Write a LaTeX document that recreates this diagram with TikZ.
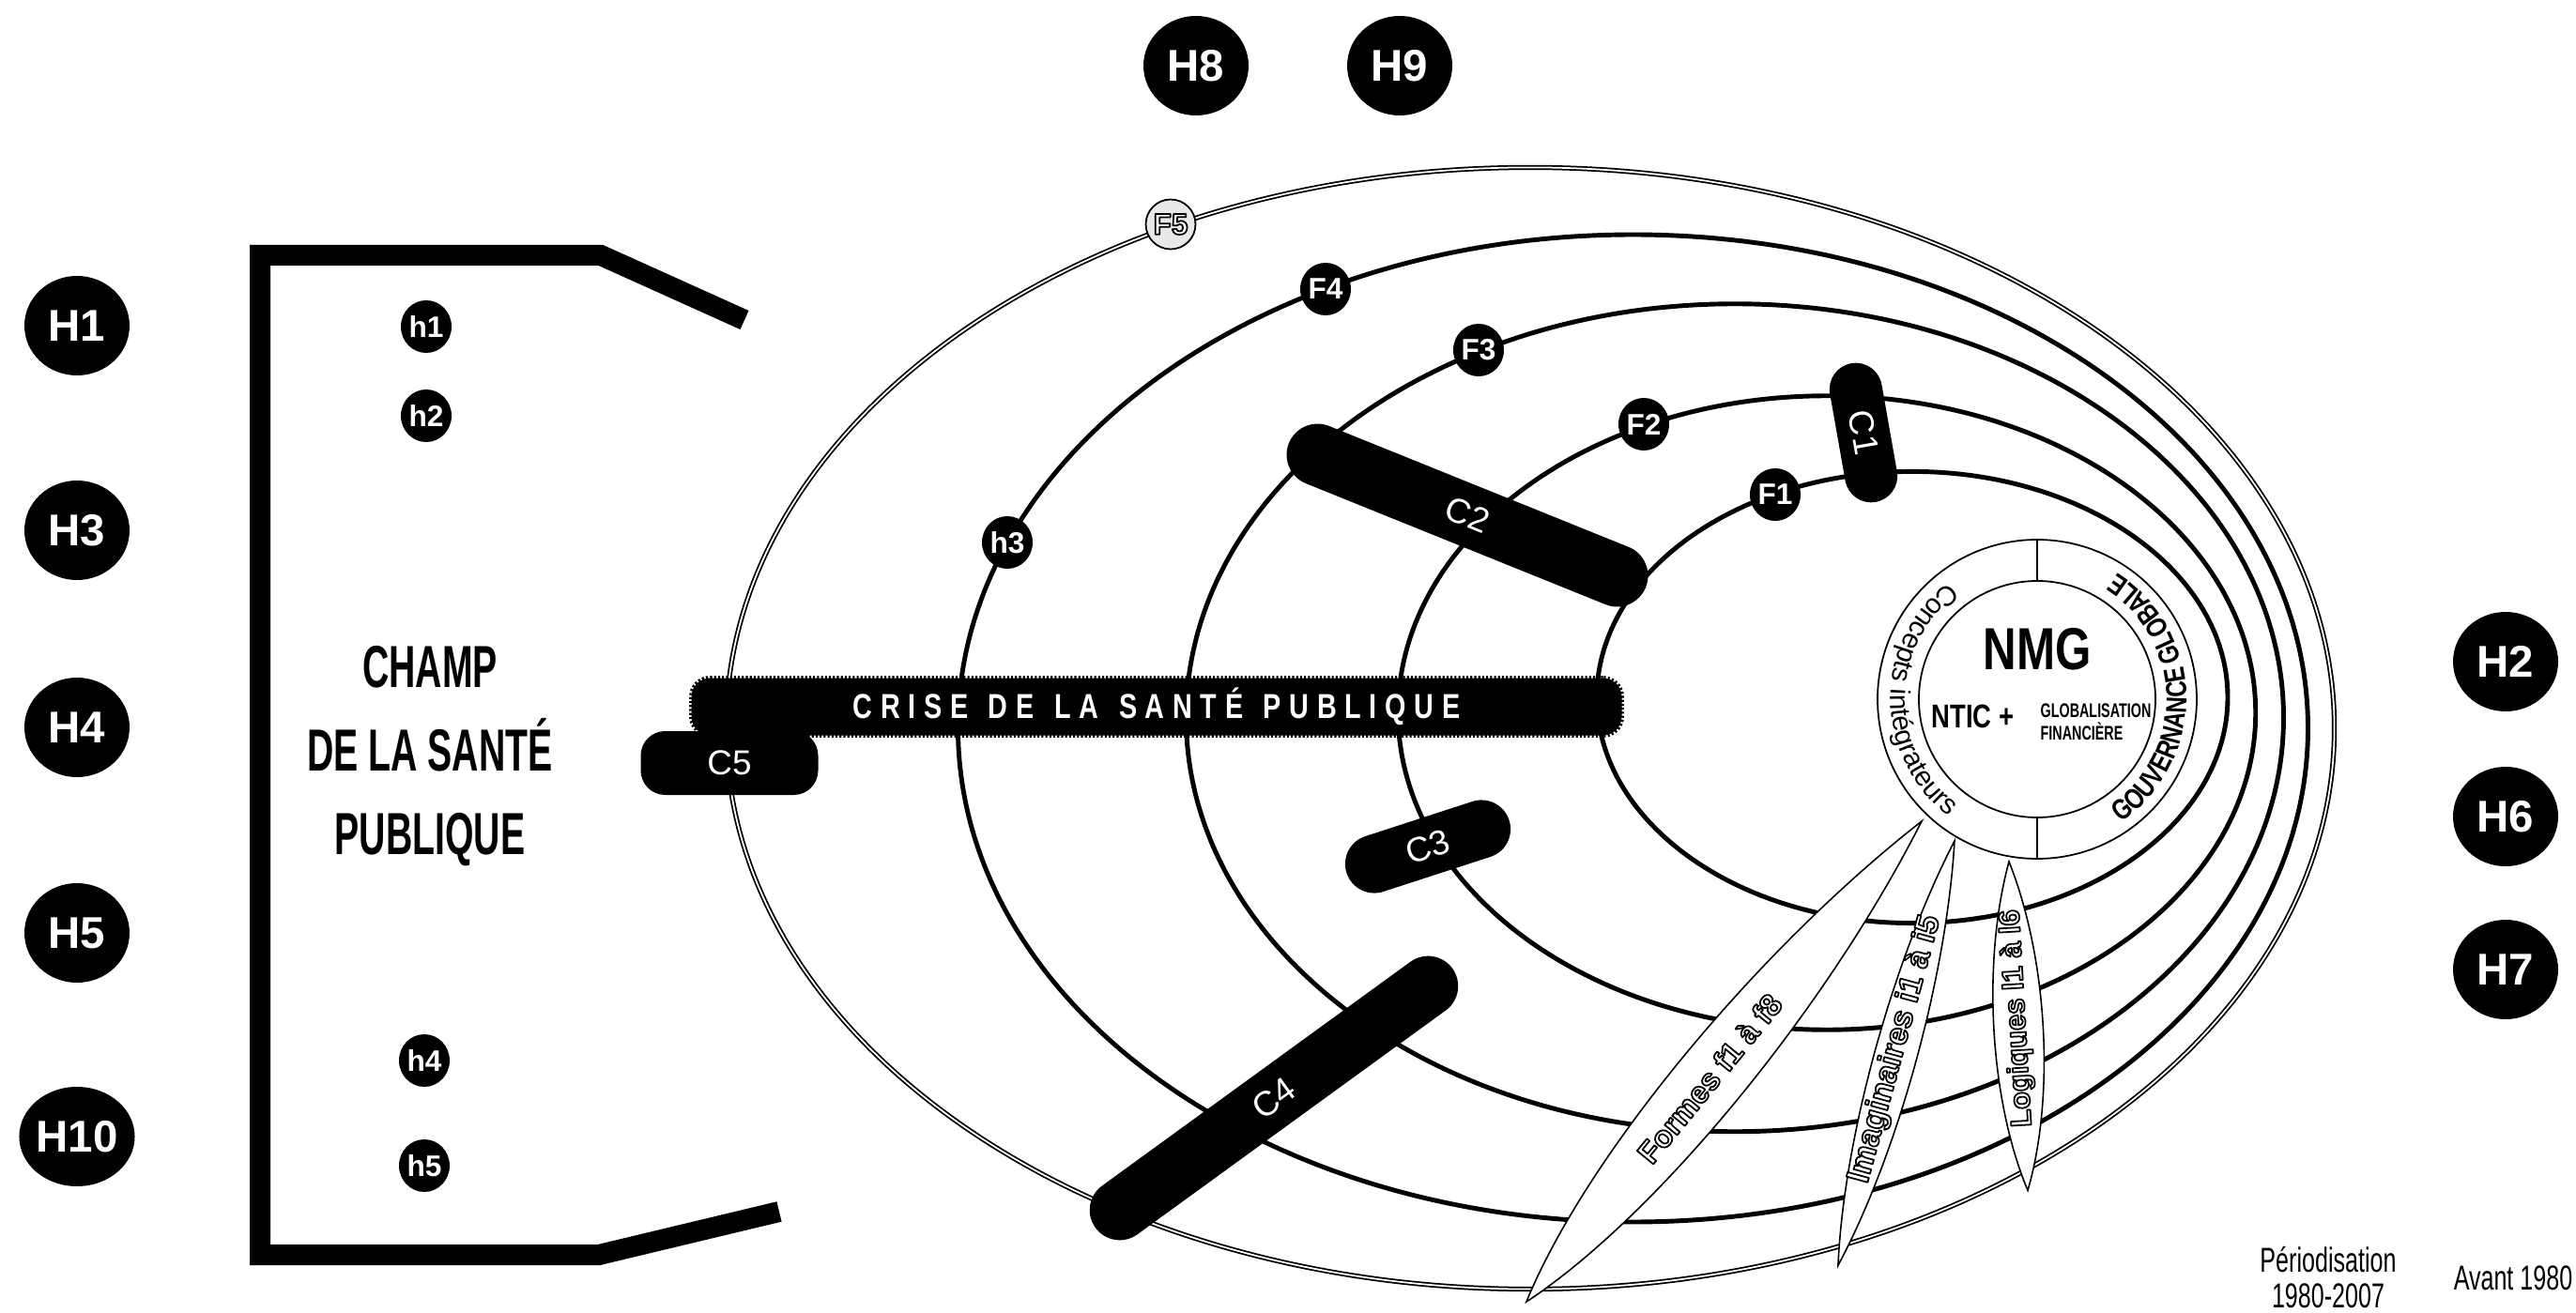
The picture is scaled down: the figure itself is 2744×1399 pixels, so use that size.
\documentclass[tikz,border=0pt]{standalone}
\usepackage{fontspec}
\setmainfont{Liberation Sans}
\newfontfamily\cnd[FakeStretch=0.68]{Liberation Sans}
\newfontfamily\cndc[FakeStretch=0.62]{Liberation Sans}
\newfontfamily\cndw[FakeStretch=0.78]{Liberation Sans}
\usetikzlibrary{shapes.geometric,decorations.text}
\newcommand{\outl}[1]{\special{pdf:literal direct 2 Tr 0.5 w 1 j 0 0 0 RG 1 1 1 rg}#1\special{pdf:literal direct 0 Tr 0.3985 w 0 j 0 0 0 rg 0 0 0 RG}}
\newcommand{\wgap}{\hskip 0pt plus 2.5fil\relax}
\newcommand{\lgap}{\hskip 0pt plus 1fil\relax}
\newcommand{\crisetext}{\hbox to 184pt{C\lgap R\lgap I\lgap S\lgap E\wgap D\lgap E\wgap L\lgap A\wgap S\lgap A\lgap N\lgap T\lgap É\wgap P\lgap U\lgap B\lgap L\lgap I\lgap Q\lgap U\lgap E}}
\begin{document}
\begin{tikzpicture}[x=0.1mm,y=0.1mm,
  bigH/.style={ellipse, fill=black, minimum width=11.2mm, minimum height=10.6mm, inner sep=0pt, text=white, font=\bfseries\fontsize{13.5}{14}\selectfont},
  smallh/.style={ellipse, fill=black, minimum width=5.4mm, minimum height=5.6mm, inner sep=0pt, text=white, font=\bfseries\fontsize{9}{9}\selectfont},
  capsule/.style={rectangle, fill=black, text=white, inner sep=0pt, font=\fontsize{10.5}{11}\selectfont},
  orbit/.style={line width=1.4pt},
  lens/.style={draw=black, fill=white, line width=0.45pt},
  thinline/.style={line width=0.5pt},
  hollow/.style={inner sep=0pt, font=\bfseries\fontsize{9.3}{10}\selectfont},
]
\fill[white] (0,0) rectangle (2744,-1399);
\useasboundingbox (0,0) rectangle (2744,-1399);

% orbits
\draw[double=white, double distance=0.5pt, line width=0.5pt] (1630,-776) ellipse [x radius=85.66mm, y radius=59.76mm];
\draw[orbit] (1739.5,-776) ellipse [x radius=71.9mm, y radius=52.6mm];
\draw[orbit] (1848,-764.75) ellipse [x radius=58.45mm, y radius=44.1mm];
\draw[orbit] (1946,-759.5) ellipse [x radius=45.675mm, y radius=33.775mm];
\draw[orbit] (2037,-743) ellipse [x radius=33.6mm, y radius=24.06mm];

% bracket
\draw[line width=2.2mm, line join=miter] (830,-1291) -- (638,-1337) -- (277,-1337) -- (277,-272) -- (640,-272) -- (793,-341);
\node[align=center, font=\cndc\bfseries\fontsize{18}{25.3}\selectfont] (champ) at (458,-806) {CHAMP\\DE LA SANTÉ\\PUBLIQUE};

% NMG circle
\node[circle, draw, fill=white, thinline, minimum size=34mm, inner sep=0pt] (nmgout) at (2170,-745) {};
\node[circle, draw, thinline, minimum size=25.2mm, inner sep=0pt] (nmgin) at (2170,-745) {};
\draw[thinline] (nmgout.north) -- (nmgin.north);
\draw[thinline] (nmgin.south) -- (nmgout.south);
\node[font=\cndw\bfseries\fontsize{18}{20}\selectfont] (nmg) at (2170,-692) {NMG};
\node[anchor=west, inner sep=0pt, font=\cndw\bfseries\fontsize{10}{12}\selectfont] (ntic) at (2057,-763) {NTIC +};
\node[anchor=west, inner sep=0pt, align=left, font=\cnd\bfseries\fontsize{6}{6.8}\selectfont] (glob) at (2173,-769) {GLOBALISATION\\FINANCIÈRE};
\path[decorate, decoration={text along path, text align=center, text={|\fontsize{8.4}{9}\selectfont|Concepts intégrateurs}}] (2170,-745) ++(126:15.6mm) arc[start angle=126, end angle=234, radius=15.6mm];
\path[decorate, decoration={text along path, text align=center, text={|\cndw\bfseries\fontsize{8.8}{9}\selectfont|GOUVERNANCE GLOBALE}}] (2170,-745) ++(-58:15.9mm) arc[start angle=-58, end angle=60, radius=15.9mm];

% lenses
\begin{scope}[shift={(2047,-875)}, rotate=230.57]
  \draw[lens] (0,0) .. controls (220,49) and (505,49) .. (663,0) .. controls (505,-49) and (220,-49) .. (0,0) -- cycle;
\end{scope}
\begin{scope}[shift={(2082,-896)}, rotate=254.66]
  \draw[lens] (0,0) .. controls (141,30) and (337,30) .. (469,0) .. controls (337,-30) and (141,-30) .. (0,0) -- cycle;
\end{scope}
\begin{scope}[shift={(2140,-918)}, rotate=273.27]
  \draw[lens] (0,0) .. controls (105,35) and (252,35) .. (351,0) .. controls (252,-35) and (105,-35) .. (0,0) -- cycle;
\end{scope}
\node[hollow, rotate=50.6] (formes) at (1821,-1149) {\outl{Formes f1 à f8}};
\node[hollow, rotate=74.7, font=\bfseries\fontsize{9.7}{10}\selectfont] (imag) at (2019,-1118) {\outl{Imaginaires i1 à i5}};
\node[hollow, rotate=93.3, font=\bfseries\fontsize{8.8}{10}\selectfont] (logi) at (2149,-1085) {\outl{Logiques l1 à l6}};

% capsules
\node[capsule, minimum width=15mm, minimum height=5.6mm, rounded corners=2.8mm, rotate=-80] (C1) at (1985,-461) {C1};
\node[capsule, minimum width=41mm, minimum height=6.6mm, rounded corners=3.3mm, rotate=-22] (C2) at (1563,-549) {C2};
\node[capsule, minimum width=18.2mm, minimum height=6.2mm, rounded corners=3.1mm, rotate=18] (C3) at (1521,-902) {C3};
\node[capsule, minimum width=47mm, minimum height=6.4mm, rounded corners=3.2mm, rotate=36] (C4) at (1357,-1170) {C4};
\node[capsule, minimum width=18.9mm, minimum height=6.8mm, rounded corners=2.6mm] (C5) at (777,-813) {C5};

% crisis band
\node[fill=black, minimum width=99.1mm, minimum height=6.1mm, rounded corners=2mm, inner sep=0pt,
      postaction={draw=black, line width=1.4pt, dash pattern=on 0.6pt off 0.6pt},
      text=white, font=\cndw\bfseries\fontsize{10.5}{11}\selectfont] (crise) at (1232,-753) {\crisetext};

% small circles on orbits
\node[smallh] (h3) at (1073,-578) {h3};
\node[smallh] (F1) at (1891,-527) {F1};
\node[smallh] (F2) at (1751,-452) {F2};
\node[smallh] (F3) at (1575,-373) {F3};
\node[smallh] (F4) at (1412,-308) {F4};
\node[circle, draw, thinline, fill=gray!18, minimum size=5.3mm, inner sep=0pt, font=\bfseries\fontsize{9}{9}\selectfont] (F5) at (1247,-239) {\outl{F5}};

% small h inside bracket
\node[smallh] (h1) at (454,-348) {h1};
\node[smallh] (h2) at (454,-443) {h2};
\node[smallh] (h4) at (452,-1130) {h4};
\node[smallh] (h5) at (452,-1242) {h5};

% big H
\node[bigH] (H1) at (82,-347) {H1};
\node[bigH] (H3) at (82,-565) {H3};
\node[bigH] (H4) at (82,-775) {H4};
\node[bigH] (H5) at (82,-994) {H5};
\node[bigH] (H10) at (82,-1211) {H10};
\node[bigH] (H8) at (1274,-70) {H8};
\node[bigH] (H9) at (1491,-70) {H9};
\node[bigH] (H2) at (2669,-705) {H2};
\node[bigH] (H6) at (2669,-870) {H6};
\node[bigH] (H7) at (2669,-1033) {H7};

% period labels
\node[align=center, font=\cnd\fontsize{10.5}{10.8}\selectfont] (period) at (2480,-1361) {Périodisation\\1980-2007};
\node[font=\cnd\fontsize{10.5}{12}\selectfont] (avant) at (2677,-1362) {Avant 1980};
\end{tikzpicture}
\end{document}
